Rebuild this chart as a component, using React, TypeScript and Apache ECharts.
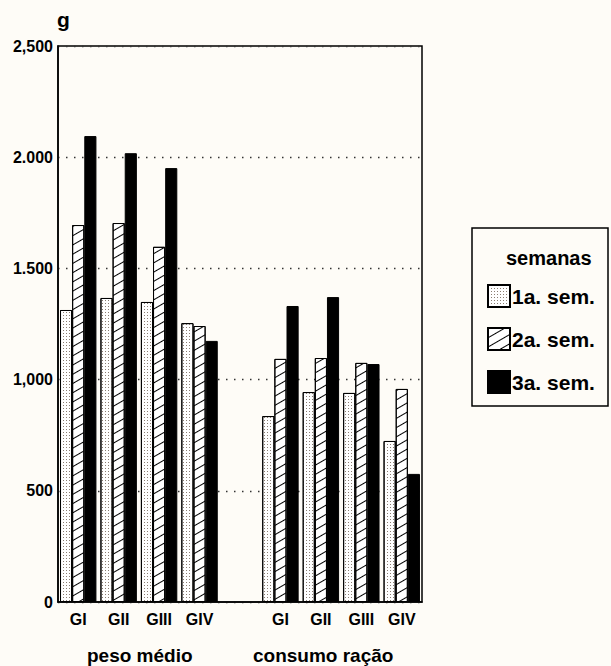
import React, { useEffect, useRef } from "react";
import * as echarts from "echarts";

const categories = ["GI", "GII", "GIII", "GIV", "", "GI", "GII", "GIII", "GIV"];
const groupLabels = ["peso médio", "consumo ração"];
const seriesNames = ["1a. sem.", "2a. sem.", "3a. sem."];
const sem1 = [1313, 1367, 1349, 1254, null, 836, 944, 940, 724];
const sem2 = [1695, 1704, 1597, 1241, null, 1093, 1097, 1075, 958];
const sem3 = [2095, 2018, 1951, 1174, null, 1331, 1371, 1070, 576];
const yTickLabels: Record<number, string> = {
  0: "0",
  500: "500",
  1000: "1,000",
  1500: "1.500",
  2000: "2.000",
  2500: "2,500",
};
const unitLabel = "g";
const legendTitle = "semanas";

const FONT = "'Liberation Sans', Arial, Helvetica, sans-serif";

export default function App() {
  const ref = useRef<HTMLDivElement>(null);
  useEffect(() => {
    if (!ref.current) return;
    const chart = echarts.init(ref.current, null, { renderer: "svg" });
    const dotDecal = {
      symbol: "rect",
      symbolSize: 1,
      dashArrayX: [1, 2],
      dashArrayY: [1, 2],
      color: "#8a7d72",
      backgroundColor: "#ffffff",
    };
    const hatchDecal = {
      symbol: "rect",
      symbolSize: 1,
      dashArrayX: [[1, 0]],
      dashArrayY: [1, 7],
      rotation: -Math.PI / 6,
      color: "#000000",
      backgroundColor: "#ffffff",
    };
    const baseItem = { borderColor: "#000", borderWidth: 1 };
    chart.setOption({
      animation: false,
      backgroundColor: "#fefcf7",
      textStyle: { fontFamily: FONT },
      grid: { left: 58, right: 189, top: 46, bottom: 64, show: true, borderColor: "#000", borderWidth: 1.5 },
      xAxis: {
        type: "category",
        data: categories,
        axisTick: { show: false },
        axisLine: { lineStyle: { color: "#000", width: 1.5 } },
        axisLabel: { color: "#000", fontWeight: "bold", fontSize: 16, margin: 9, fontFamily: FONT },
      },
      yAxis: {
        type: "value",
        min: 0,
        max: 2500,
        interval: 500,
        axisLine: { show: true, lineStyle: { color: "#000", width: 1.5 } },
        axisTick: { show: false },
        axisLabel: {
          color: "#000",
          fontWeight: "bold",
          fontSize: 16,
          margin: 5,
          fontFamily: FONT,
          formatter: (v: number) => yTickLabels[v] ?? String(v),
        },
        splitLine: { show: true, lineStyle: { color: "#333", width: 1.3, type: [1.5, 6.5] } },
      },
      legend: {
        orient: "vertical",
        left: 487,
        top: 284,
        padding: 0,
        itemWidth: 22,
        itemHeight: 22,
        itemGap: 19,
        icon: "rect",
        data: seriesNames,
        textStyle: { color: "#000", fontWeight: "bold", fontSize: 21, lineHeight: 22, fontFamily: FONT, padding: [0, 0, 0, -3] },
      },
      series: [
        { name: seriesNames[0], type: "bar", data: sem1, barGap: "0%", barCategoryGap: "10%", itemStyle: { ...baseItem, color: "#ffffff", decal: dotDecal } },
        { name: seriesNames[1], type: "bar", data: sem2, itemStyle: { ...baseItem, color: "#ffffff", decal: hatchDecal } },
        { name: seriesNames[2], type: "bar", data: sem3, itemStyle: { ...baseItem, color: "#000000" } },
      ],
      graphic: [
        { type: "text", left: 57, top: 9, style: { text: unitLabel, fontSize: 21, fontWeight: "bold", fill: "#000", fontFamily: FONT } },
        { type: "text", left: 87, top: 646, style: { text: groupLabels[0], fontSize: 19, fontWeight: "bold", fill: "#000", fontFamily: FONT } },
        { type: "text", left: 253, top: 646, style: { text: groupLabels[1], fontSize: 19, fontWeight: "bold", fill: "#000", fontFamily: FONT } },
        { type: "rect", shape: { x: 472, y: 228, width: 136, height: 178 }, style: { fill: "none", stroke: "#000", lineWidth: 1.5 } },
        { type: "text", left: 506, top: 248, style: { text: legendTitle, fontSize: 20, fontWeight: "bold", fill: "#000", fontFamily: FONT } },
      ],
    });
    return () => chart.dispose();
  }, []);
  return <div ref={ref} style={{ width: 611, height: 666, position: "absolute", left: 0, top: 0 }} />;
}
